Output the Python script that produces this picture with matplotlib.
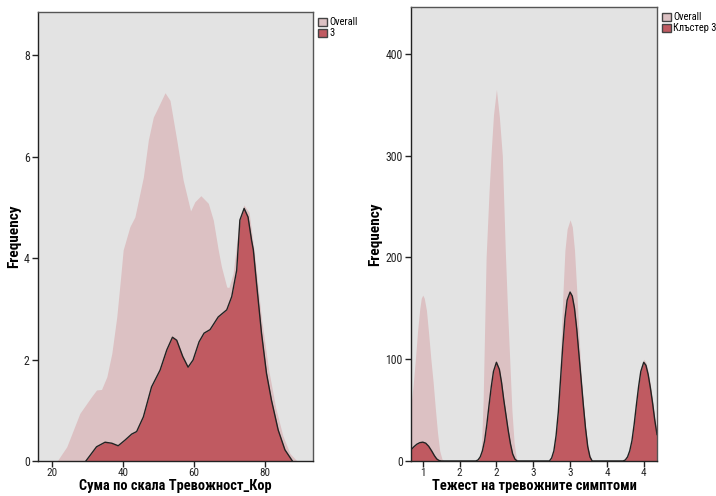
import numpy as np
import matplotlib.pyplot as plt
from matplotlib.patches import Patch

plt.rcParams['font.family'] = ['Roboto Condensed', 'PT Sans Narrow', 'Open Sans', 'DejaVu Sans']

# left panel: Сума по скала Тревожност_Кор
sum_overall_x = [21.4, 24.1, 27.8, 31.1, 32.5, 33.9, 35.4, 36.8, 38.2, 39.3, 40.0, 41.9, 43.3,
                 45.7, 47.1, 48.5, 49.9, 51.8, 53.2, 55.1, 56.9, 59.0, 60.2, 61.9, 64.0, 65.4,
                 66.8, 67.7, 69.2, 69.8, 71.0, 72.5, 74.0, 75.5, 77.0, 79.0, 81.0, 83.0, 85.0,
                 87.0, 89.0]
sum_overall_y = [0.0, 0.28, 0.94, 1.27, 1.40, 1.41, 1.66, 2.12, 2.84, 3.63, 4.16, 4.62, 4.81,
                 5.60, 6.33, 6.78, 6.98, 7.26, 7.11, 6.33, 5.54, 4.93, 5.11, 5.23, 5.08, 4.75,
                 4.16, 3.83, 3.43, 3.42, 3.70, 4.60, 5.05, 4.90, 4.10, 2.80, 1.80, 1.05, 0.50,
                 0.15, 0.0]
sum_c3_x = [29.5, 32.5, 34.9, 36.8, 38.6, 40.5, 42.4, 43.8, 45.7, 48.0, 50.4, 52.3, 53.9, 55.1,
            56.8, 58.3, 59.7, 61.4, 62.8, 64.5, 66.8, 69.2, 70.6, 72.0, 72.9, 74.1, 75.2, 76.2,
            76.7, 77.6, 79.0, 80.4, 81.8, 83.7, 85.6, 87.7]
sum_c3_y = [0.0, 0.28, 0.37, 0.35, 0.30, 0.41, 0.53, 0.58, 0.87, 1.46, 1.79, 2.19, 2.44, 2.38,
            2.06, 1.85, 1.99, 2.35, 2.52, 2.59, 2.84, 2.98, 3.24, 3.76, 4.75, 4.98, 4.81, 4.35,
            4.16, 3.50, 2.52, 1.73, 1.20, 0.61, 0.22, 0.0]

# right panel: Тежест на тревожните симптоми
sev_overall_x = [0.84, 0.87, 0.9, 0.93, 0.96, 0.98, 1.0, 1.02, 1.05, 1.08, 1.11, 1.14, 1.17,
                 1.2, 1.23, 1.26, 1.29,
                 1.78, 1.8, 1.82, 1.84, 1.86, 1.9, 1.93, 1.96, 2.0, 2.04, 2.08, 2.12, 2.15,
                 2.18, 2.21, 2.24, 2.27, 2.3,
                 2.74, 2.78, 2.82, 2.86, 2.9, 2.93, 2.96, 3.0, 3.03, 3.06, 3.09, 3.12, 3.15,
                 3.18, 3.21, 3.24, 3.27, 3.3,
                 3.7, 3.74, 3.78, 3.81, 3.84, 3.87, 3.9, 3.93, 3.96, 4.0, 4.03, 4.06, 4.09,
                 4.12, 4.15, 4.18]
sev_overall_y = [55, 75, 100, 128, 150, 160, 163, 160, 148, 125, 100, 78, 52,
                 28, 10, 2, 0,
                 0, 20, 60, 130, 200, 265, 305, 340, 365, 338, 300, 207, 150,
                 100, 50, 18, 3, 0,
                 0, 12, 35, 85, 160, 207, 228, 237, 230, 207, 168, 125, 85,
                 58, 34, 15, 5, 0,
                 0, 2, 6, 12, 23, 40, 59, 77, 92, 100, 97, 88, 75,
                 60, 43, 29]
sev_c3_x = [0.84, 0.88, 0.92, 0.96, 1.0, 1.04, 1.08, 1.12, 1.16, 1.19, 1.22, 1.25,
            1.72, 1.75, 1.78, 1.81, 1.84, 1.87, 1.9, 1.93, 1.96, 2.0, 2.04, 2.07, 2.1, 2.13,
            2.16, 2.19, 2.22, 2.25, 2.28,
            2.72, 2.75, 2.78, 2.81, 2.84, 2.87, 2.9, 2.93, 2.96, 3.0, 3.03, 3.06, 3.09, 3.12,
            3.15, 3.18, 3.21, 3.24, 3.27, 3.3,
            3.72, 3.75, 3.78, 3.81, 3.84, 3.87, 3.9, 3.93, 3.96, 4.0, 4.03, 4.06, 4.09, 4.12,
            4.15, 4.18]
sev_c3_y = [11, 14, 16.5, 18, 18.5, 17.5, 14.5, 10, 5, 2, 0.5, 0,
            0, 1, 4, 10, 20, 36, 55, 73, 88, 97, 90, 77, 60, 45,
            30, 17, 7, 2, 0,
            0, 3, 10, 25, 48, 80, 112, 140, 158, 166, 162, 150, 130, 105,
            80, 55, 32, 14, 4, 0,
            0, 1, 4, 10, 20, 36, 55, 73, 88, 97, 94, 85, 72, 57,
            40, 26]

sev_ticks = [1, 1.5, 2, 2.5, 3, 3.5, 4]
sev_ticklabels = ['1', '2', '2', '3', '3', '4', '4']

bg = '#e3e3e3'
pink = '#dcc1c3'
red = '#c05a61'
edge = '#222222'

fig = plt.figure(figsize=(7.16, 4.96), dpi=100)
ax1 = fig.add_axes([0.0531, 0.0706, 0.384, 0.905])
ax2 = fig.add_axes([0.574, 0.0706, 0.3436, 0.915])


def style(ax):
    ax.set_facecolor(bg)
    for s in ax.spines.values():
        s.set_color('#555555')
        s.set_linewidth(1.0)
    ax.spines['bottom'].set_color('#222222')
    ax.spines['left'].set_color('#222222')
    ax.tick_params(direction='out', length=4, width=1, labelsize=8.5, pad=2, colors='#222222')
    ax.tick_params(axis='x', labelsize=8, pad=1)
    ax.tick_params(top=False, right=False)


def legend(ax, labels):
    ax.legend(handles=[Patch(facecolor=pink, edgecolor='#444444', label=labels[0]),
                       Patch(facecolor=red, edgecolor='#444444', label=labels[1])],
              loc='upper left', bbox_to_anchor=(1.0, 1.0), frameon=False, fontsize=7.5,
              handlelength=0.8, handleheight=0.8, handletextpad=0.25, labelspacing=0.1,
              borderaxespad=0.3, borderpad=0.2)


ax1.fill_between(sum_overall_x, sum_overall_y, color=pink, lw=0)
ax1.fill_between(sum_c3_x, sum_c3_y, color=red, lw=0)
ax1.plot(sum_c3_x, sum_c3_y, color=edge, lw=1.0)
ax1.set_xlim(16, 93.5)
ax1.set_ylim(0, 8.85)
ax1.set_xticks([20, 40, 60, 80])
ax1.set_yticks([0, 2, 4, 6, 8])
style(ax1)
ax1.set_xlabel('Сума по скала Тревожност_Кор', fontsize=10.4, fontweight='bold')
ax1.xaxis.set_label_coords(0.5, -18.5 / 449)
ax1.set_ylabel('Frequency', fontsize=11, fontweight='bold', labelpad=2)
legend(ax1, ['Overall', '3'])

ax2.fill_between(sev_overall_x, sev_overall_y, color=pink, lw=0)
ax2.fill_between(sev_c3_x, sev_c3_y, color=red, lw=0)
ax2.plot(sev_c3_x, sev_c3_y, color=edge, lw=1.0)
ax2.set_xlim(0.84, 4.18)
ax2.set_ylim(0, 446)
ax2.set_xticks(sev_ticks)
ax2.set_xticklabels(sev_ticklabels)
ax2.set_yticks([0, 100, 200, 300, 400])
style(ax2)
ax2.set_xlabel('Тежест на тревожните симптоми', fontsize=10.4, fontweight='bold')
ax2.xaxis.set_label_coords(0.5, -18.5 / 454)
ax2.set_ylabel('Frequency', fontsize=11, fontweight='bold', labelpad=2)
legend(ax2, ['Overall', 'Клъстер 3'])

fig.savefig('out.png', dpi=100)
